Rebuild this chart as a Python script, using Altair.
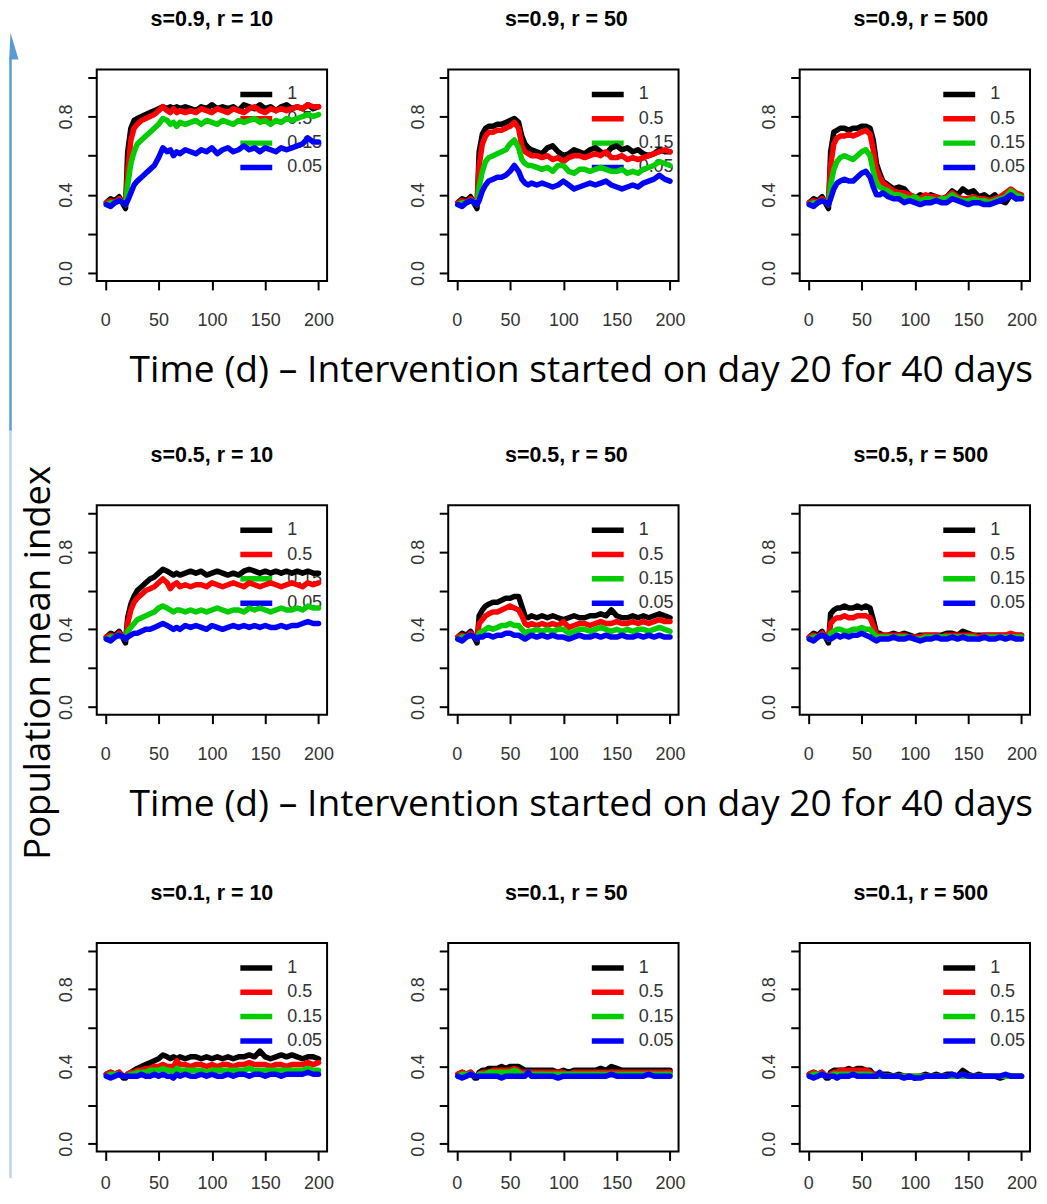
import altair as alt
import pandas as pd

DAYS = [1, 5, 9, 13, 17, 19,
        21, 24, 27, 30, 34, 38, 42, 46, 50, 54, 58,
        61, 64, 67, 70,
        75, 80, 85, 90, 95, 100, 105, 110, 115, 120, 125, 130, 135, 140, 145,
        150, 155, 160, 165, 170, 175, 180, 185, 190, 195, 200]

SERIES = ["1", "0.5", "0.15", "0.05"]
COLORS = ["#000000", "#FF0000", "#00CD00", "#0000FF"]
X_TICKS = [0, 50, 100, 150, 200]
Y_TICKS = [0.0, 0.2, 0.4, 0.6, 0.8, 1.0]
Y_LABELED = ["0.0", "0.4", "0.8"]
TITLES = [["s=0.9, r = 10", "s=0.9, r = 50", "s=0.9, r = 500"],
          ["s=0.5, r = 10", "s=0.5, r = 50", "s=0.5, r = 500"],
          ["s=0.1, r = 10", "s=0.1, r = 50", "s=0.1, r = 500"]]
X_NOTE = "Time (d) \u2013 Intervention started on day 20  for 40 days"
Y_NOTE = "Population mean index"

# ---- s=0.9, r=10
A_BLACK = [0.36, 0.38, 0.37, 0.39, 0.35, 0.33,
           0.62, 0.74, 0.78, 0.79, 0.80, 0.81, 0.82, 0.83, 0.84, 0.85, 0.84,
           0.85, 0.84, 0.85, 0.84,
           0.85, 0.84, 0.83, 0.85, 0.84, 0.86, 0.84, 0.85, 0.84, 0.85, 0.83, 0.86, 0.85,
           0.84, 0.86, 0.84, 0.85, 0.83, 0.85, 0.86, 0.84, 0.85, 0.84, 0.86, 0.84, 0.85]
A_RED = [0.36, 0.37, 0.36, 0.38, 0.36, 0.35,
         0.52, 0.68, 0.74, 0.76, 0.78, 0.79, 0.80, 0.81, 0.83, 0.85, 0.83,
         0.82, 0.84, 0.82, 0.83,
         0.82, 0.83, 0.82, 0.84, 0.83, 0.82, 0.84, 0.83, 0.82, 0.84, 0.83, 0.82, 0.84,
         0.85, 0.83, 0.82, 0.84, 0.83, 0.84, 0.83, 0.84, 0.85, 0.84, 0.86, 0.85, 0.85]
A_GREEN = [0.35, 0.36, 0.36, 0.37, 0.36, 0.35,
           0.45, 0.56, 0.62, 0.66, 0.68, 0.70, 0.72, 0.74, 0.76, 0.79, 0.78,
           0.76, 0.77, 0.75, 0.77,
           0.76, 0.77, 0.78, 0.76, 0.78, 0.77, 0.76, 0.78, 0.77, 0.76, 0.78, 0.77, 0.78,
           0.79, 0.77, 0.78, 0.76, 0.78, 0.77, 0.79, 0.78, 0.79, 0.80, 0.81, 0.80, 0.81]
A_BLUE = [0.35, 0.34, 0.36, 0.37, 0.36, 0.35,
          0.37, 0.41, 0.45, 0.47, 0.49, 0.51, 0.53, 0.55, 0.59, 0.64, 0.62,
          0.63, 0.60, 0.62, 0.61,
          0.63, 0.62, 0.61, 0.63, 0.62, 0.64, 0.61, 0.63, 0.64, 0.62, 0.63, 0.65, 0.63,
          0.64, 0.62, 0.64, 0.63, 0.62, 0.64, 0.63, 0.64, 0.65, 0.66, 0.69, 0.67, 0.67]

# ---- s=0.9, r=50
B_BLACK = [0.36, 0.38, 0.37, 0.39, 0.35, 0.33,
           0.62, 0.71, 0.74, 0.75, 0.75, 0.76, 0.76, 0.77, 0.78, 0.79, 0.77,
           0.70, 0.66, 0.64, 0.63,
           0.62, 0.61, 0.64, 0.65, 0.62, 0.60, 0.61, 0.63, 0.62, 0.61, 0.63, 0.64, 0.62,
           0.61, 0.64, 0.65, 0.63, 0.64, 0.62, 0.63, 0.61, 0.60, 0.61, 0.63, 0.62, 0.62]
B_RED = [0.36, 0.37, 0.36, 0.38, 0.36, 0.35,
         0.55, 0.66, 0.70, 0.72, 0.72, 0.73, 0.73, 0.74, 0.75, 0.77, 0.74,
         0.65, 0.62, 0.61, 0.60,
         0.60, 0.59, 0.60, 0.58, 0.59, 0.57, 0.59, 0.60, 0.60, 0.59, 0.60, 0.61, 0.60,
         0.62, 0.59, 0.59, 0.60, 0.58, 0.59, 0.58, 0.59, 0.60, 0.61, 0.62, 0.63, 0.62]
B_GREEN = [0.35, 0.36, 0.36, 0.37, 0.36, 0.35,
           0.44, 0.52, 0.57, 0.59, 0.60, 0.61, 0.62, 0.63, 0.66, 0.68, 0.64,
           0.58, 0.56, 0.55, 0.55,
           0.54, 0.53, 0.54, 0.52, 0.55, 0.55, 0.52, 0.51, 0.53, 0.53, 0.52, 0.53, 0.54,
           0.53, 0.52, 0.52, 0.53, 0.51, 0.52, 0.51, 0.53, 0.54, 0.55, 0.57, 0.56, 0.55]
B_BLUE = [0.35, 0.34, 0.36, 0.37, 0.36, 0.35,
          0.37, 0.42, 0.45, 0.47, 0.48, 0.49, 0.49, 0.50, 0.52, 0.55, 0.52,
          0.48, 0.46, 0.45, 0.46,
          0.45, 0.46, 0.45, 0.44, 0.45, 0.47, 0.45, 0.43, 0.44, 0.45, 0.46, 0.45, 0.46,
          0.47, 0.45, 0.44, 0.43, 0.44, 0.45, 0.44, 0.46, 0.47, 0.48, 0.50, 0.48, 0.47]

# ---- s=0.9, r=500
C_BLACK = [0.36, 0.38, 0.37, 0.39, 0.35, 0.33,
           0.62, 0.72, 0.73, 0.74, 0.74, 0.73, 0.74, 0.74, 0.75, 0.75, 0.74,
           0.68, 0.56, 0.51, 0.47,
           0.45, 0.43, 0.44, 0.43, 0.40, 0.38, 0.40, 0.39, 0.40, 0.39, 0.38, 0.39, 0.42,
           0.40, 0.43, 0.41, 0.42, 0.39, 0.40, 0.38, 0.40, 0.37, 0.36, 0.40, 0.38, 0.39]
C_RED = [0.36, 0.37, 0.36, 0.38, 0.36, 0.35,
         0.55, 0.66, 0.69, 0.70, 0.70, 0.71, 0.70, 0.71, 0.72, 0.73, 0.71,
         0.63, 0.53, 0.49, 0.46,
         0.44, 0.42, 0.41, 0.41, 0.40, 0.39, 0.38, 0.40, 0.39, 0.39, 0.38, 0.39, 0.41,
         0.39, 0.38, 0.38, 0.39, 0.38, 0.38, 0.37, 0.38, 0.39, 0.41, 0.43, 0.41, 0.40]
C_GREEN = [0.35, 0.36, 0.36, 0.37, 0.36, 0.35,
           0.45, 0.53, 0.57, 0.59, 0.60, 0.59, 0.58, 0.60, 0.62, 0.63, 0.60,
           0.52, 0.46, 0.44, 0.43,
           0.42, 0.40, 0.40, 0.39, 0.38, 0.39, 0.37, 0.38, 0.38, 0.37, 0.38, 0.38, 0.40,
           0.38, 0.37, 0.37, 0.38, 0.37, 0.37, 0.36, 0.37, 0.38, 0.39, 0.42, 0.40, 0.39]
C_BLUE = [0.35, 0.34, 0.36, 0.37, 0.36, 0.35,
          0.38, 0.43, 0.46, 0.47, 0.48, 0.47, 0.47, 0.49, 0.51, 0.52, 0.49,
          0.44, 0.40, 0.40, 0.41,
          0.39, 0.38, 0.38, 0.36, 0.37, 0.36, 0.35, 0.36, 0.36, 0.37, 0.36, 0.36, 0.38,
          0.37, 0.36, 0.35, 0.36, 0.36, 0.35, 0.35, 0.36, 0.37, 0.38, 0.40, 0.38, 0.38]

# ---- s=0.5, r=10
D_BLACK = [0.36, 0.38, 0.37, 0.39, 0.35, 0.33,
           0.46, 0.53, 0.57, 0.60, 0.62, 0.64, 0.66, 0.67, 0.69, 0.71, 0.70,
           0.69, 0.68, 0.69, 0.68,
           0.69, 0.70, 0.69, 0.70, 0.68, 0.69, 0.70, 0.69, 0.68, 0.69, 0.68, 0.70, 0.71,
           0.70, 0.69, 0.70, 0.69, 0.70, 0.69, 0.70, 0.69, 0.70, 0.69, 0.70, 0.69, 0.69]
D_RED = [0.36, 0.37, 0.36, 0.38, 0.36, 0.35,
         0.43, 0.50, 0.54, 0.56, 0.58, 0.60, 0.61, 0.62, 0.64, 0.66, 0.64,
         0.61, 0.63, 0.64, 0.62,
         0.63, 0.62, 0.63, 0.63, 0.62, 0.64, 0.63, 0.62, 0.63, 0.64, 0.63, 0.62, 0.64,
         0.63, 0.62, 0.63, 0.64, 0.63, 0.62, 0.63, 0.64, 0.63, 0.62, 0.64, 0.63, 0.64]
D_GREEN = [0.35, 0.36, 0.36, 0.37, 0.36, 0.35,
           0.39, 0.41, 0.43, 0.45, 0.46, 0.47, 0.48, 0.49, 0.51, 0.52, 0.51,
           0.50, 0.49, 0.50, 0.50,
           0.49, 0.50, 0.49, 0.50, 0.49, 0.50, 0.51, 0.50, 0.49, 0.50, 0.50, 0.49, 0.51,
           0.50, 0.51, 0.50, 0.49, 0.50, 0.51, 0.50, 0.50, 0.51, 0.50, 0.52, 0.51, 0.51]
D_BLUE = [0.35, 0.34, 0.36, 0.37, 0.36, 0.35,
          0.36, 0.37, 0.38, 0.38, 0.39, 0.40, 0.40, 0.41, 0.42, 0.43, 0.42,
          0.41, 0.40, 0.41, 0.40,
          0.42, 0.41, 0.42, 0.41, 0.40, 0.42, 0.41, 0.40, 0.41, 0.42, 0.41, 0.42, 0.41,
          0.42, 0.41, 0.42, 0.41, 0.41, 0.42, 0.41, 0.42, 0.42, 0.43, 0.44, 0.43, 0.43]

# ---- s=0.5, r=50
E_BLACK = [0.36, 0.38, 0.37, 0.39, 0.35, 0.33,
           0.47, 0.50, 0.52, 0.53, 0.54, 0.54, 0.55, 0.56, 0.56, 0.57, 0.57,
           0.52, 0.47, 0.46, 0.47,
           0.46, 0.47, 0.46, 0.47, 0.46, 0.45, 0.46, 0.47, 0.46, 0.46, 0.47, 0.47, 0.48,
           0.47, 0.50, 0.47, 0.46, 0.46, 0.47, 0.46, 0.47, 0.46, 0.47, 0.48, 0.47, 0.46]
E_RED = [0.36, 0.37, 0.36, 0.38, 0.36, 0.35,
         0.43, 0.45, 0.47, 0.48, 0.49, 0.49, 0.50, 0.51, 0.52, 0.51, 0.50,
         0.47, 0.43, 0.42, 0.43,
         0.42, 0.43, 0.42, 0.43, 0.42, 0.44, 0.41, 0.42, 0.43, 0.43, 0.42, 0.43, 0.44,
         0.43, 0.43, 0.44, 0.43, 0.43, 0.44, 0.43, 0.44, 0.43, 0.44, 0.45, 0.44, 0.44]
E_GREEN = [0.35, 0.36, 0.36, 0.37, 0.36, 0.35,
           0.38, 0.39, 0.40, 0.41, 0.40, 0.41, 0.42, 0.42, 0.43, 0.42, 0.42,
           0.40, 0.38, 0.39, 0.39,
           0.40, 0.39, 0.40, 0.39, 0.40, 0.40, 0.38, 0.39, 0.40, 0.40, 0.39, 0.40, 0.41,
           0.40, 0.39, 0.40, 0.39, 0.40, 0.39, 0.40, 0.40, 0.39, 0.40, 0.41, 0.40, 0.39]
E_BLUE = [0.35, 0.34, 0.36, 0.37, 0.36, 0.35,
          0.36, 0.36, 0.37, 0.37, 0.36, 0.37, 0.37, 0.38, 0.38, 0.37, 0.37,
          0.36, 0.35, 0.36, 0.37,
          0.36, 0.37, 0.36, 0.37, 0.36, 0.36, 0.35, 0.36, 0.37, 0.36, 0.36, 0.37, 0.36,
          0.37, 0.36, 0.36, 0.37, 0.36, 0.36, 0.37, 0.36, 0.37, 0.36, 0.37, 0.36, 0.36]

# ---- s=0.5, r=500
F_BLACK = [0.36, 0.38, 0.37, 0.39, 0.35, 0.33,
           0.48, 0.50, 0.51, 0.51, 0.52, 0.51, 0.51, 0.52, 0.51, 0.52, 0.51,
           0.45, 0.38, 0.38, 0.37,
           0.37, 0.38, 0.37, 0.38, 0.37, 0.36, 0.37, 0.37, 0.37, 0.37, 0.37, 0.38, 0.38,
           0.37, 0.39, 0.38, 0.37, 0.37, 0.37, 0.37, 0.37, 0.37, 0.37, 0.37, 0.37, 0.37]
F_RED = [0.36, 0.37, 0.36, 0.38, 0.36, 0.35,
         0.43, 0.45, 0.46, 0.46, 0.47, 0.46, 0.46, 0.47, 0.47, 0.47, 0.46,
         0.42, 0.37, 0.37, 0.37,
         0.37, 0.37, 0.37, 0.37, 0.36, 0.36, 0.36, 0.37, 0.37, 0.37, 0.36, 0.37, 0.37,
         0.37, 0.37, 0.37, 0.37, 0.36, 0.37, 0.37, 0.37, 0.37, 0.37, 0.38, 0.37, 0.37]
F_GREEN = [0.35, 0.36, 0.36, 0.37, 0.36, 0.35,
           0.38, 0.39, 0.40, 0.40, 0.39, 0.39, 0.40, 0.40, 0.41, 0.40, 0.40,
           0.38, 0.36, 0.36, 0.36,
           0.36, 0.36, 0.36, 0.36, 0.36, 0.35, 0.35, 0.36, 0.36, 0.36, 0.36, 0.36, 0.36,
           0.36, 0.36, 0.36, 0.36, 0.35, 0.36, 0.36, 0.36, 0.36, 0.36, 0.36, 0.36, 0.36]
F_BLUE = [0.35, 0.34, 0.36, 0.37, 0.36, 0.35,
          0.35, 0.36, 0.37, 0.36, 0.37, 0.36, 0.37, 0.37, 0.38, 0.37, 0.36,
          0.35, 0.34, 0.35, 0.35,
          0.35, 0.36, 0.35, 0.35, 0.36, 0.35, 0.34, 0.35, 0.35, 0.36, 0.35, 0.35, 0.36,
          0.35, 0.36, 0.35, 0.35, 0.35, 0.36, 0.35, 0.35, 0.36, 0.35, 0.36, 0.35, 0.35]

# ---- s=0.1, r=10
G_BLACK = [0.36, 0.37, 0.36, 0.37, 0.34, 0.34,
           0.36, 0.37, 0.38, 0.39, 0.40, 0.41, 0.42, 0.43, 0.44, 0.46, 0.45,
           0.44, 0.45, 0.44, 0.45,
           0.44, 0.45, 0.45, 0.44, 0.45, 0.44, 0.45, 0.44, 0.45, 0.44, 0.45, 0.45, 0.46,
           0.45, 0.48, 0.45, 0.44, 0.45, 0.46, 0.45, 0.46, 0.45, 0.44, 0.45, 0.45, 0.44]
G_RED = [0.36, 0.37, 0.36, 0.37, 0.35, 0.35,
         0.36, 0.37, 0.37, 0.38, 0.38, 0.39, 0.39, 0.40, 0.40, 0.41, 0.40,
         0.40, 0.40, 0.43, 0.41,
         0.41, 0.40, 0.41, 0.41, 0.40, 0.41, 0.40, 0.41, 0.41, 0.40, 0.41, 0.41, 0.42,
         0.41, 0.41, 0.41, 0.40, 0.41, 0.41, 0.40, 0.41, 0.41, 0.41, 0.42, 0.41, 0.42]
G_GREEN = [0.35, 0.36, 0.36, 0.36, 0.35, 0.35,
           0.35, 0.36, 0.36, 0.37, 0.37, 0.37, 0.38, 0.38, 0.38, 0.39, 0.38,
           0.38, 0.37, 0.39, 0.38,
           0.38, 0.38, 0.38, 0.38, 0.37, 0.38, 0.38, 0.38, 0.38, 0.38, 0.38, 0.38, 0.39,
           0.38, 0.38, 0.38, 0.38, 0.38, 0.38, 0.38, 0.38, 0.38, 0.38, 0.39, 0.38, 0.38]
G_BLUE = [0.35, 0.34, 0.35, 0.36, 0.35, 0.35,
          0.35, 0.35, 0.35, 0.35, 0.36, 0.35, 0.35, 0.36, 0.35, 0.36, 0.35,
          0.35, 0.34, 0.36, 0.35,
          0.36, 0.35, 0.35, 0.36, 0.35, 0.36, 0.35, 0.35, 0.36, 0.35, 0.36, 0.36, 0.35,
          0.36, 0.36, 0.35, 0.36, 0.36, 0.35, 0.36, 0.36, 0.36, 0.36, 0.37, 0.36, 0.36]

# ---- s=0.1, r=50
H_BLACK = [0.36, 0.37, 0.36, 0.37, 0.34, 0.34,
           0.37, 0.38, 0.38, 0.39, 0.39, 0.39, 0.40, 0.39, 0.40, 0.40, 0.40,
           0.39, 0.38, 0.38, 0.38,
           0.38, 0.38, 0.38, 0.38, 0.37, 0.38, 0.37, 0.38, 0.38, 0.38, 0.38, 0.38, 0.39,
           0.38, 0.40, 0.39, 0.38, 0.38, 0.38, 0.38, 0.38, 0.38, 0.38, 0.38, 0.38, 0.38]
H_RED = [0.36, 0.37, 0.36, 0.37, 0.35, 0.35,
         0.36, 0.37, 0.37, 0.37, 0.38, 0.38, 0.38, 0.38, 0.38, 0.39, 0.38,
         0.37, 0.37, 0.37, 0.37,
         0.37, 0.37, 0.37, 0.37, 0.37, 0.37, 0.36, 0.37, 0.37, 0.37, 0.37, 0.37, 0.37,
         0.37, 0.37, 0.37, 0.37, 0.37, 0.37, 0.37, 0.37, 0.37, 0.37, 0.37, 0.37, 0.37]
H_GREEN = [0.35, 0.36, 0.36, 0.36, 0.35, 0.35,
           0.36, 0.36, 0.36, 0.37, 0.37, 0.37, 0.37, 0.37, 0.37, 0.38, 0.37,
           0.36, 0.36, 0.36, 0.36,
           0.36, 0.36, 0.36, 0.36, 0.36, 0.36, 0.36, 0.36, 0.36, 0.36, 0.36, 0.36, 0.36,
           0.36, 0.36, 0.36, 0.36, 0.36, 0.36, 0.36, 0.36, 0.36, 0.36, 0.36, 0.36, 0.36]
H_BLUE = [0.35, 0.34, 0.35, 0.36, 0.35, 0.35,
          0.35, 0.35, 0.35, 0.35, 0.35, 0.35, 0.34, 0.35, 0.35, 0.35, 0.35,
          0.35, 0.35, 0.37, 0.35,
          0.35, 0.35, 0.35, 0.35, 0.34, 0.35, 0.35, 0.35, 0.35, 0.35, 0.35, 0.35, 0.35,
          0.35, 0.36, 0.35, 0.35, 0.35, 0.35, 0.35, 0.35, 0.36, 0.35, 0.35, 0.35, 0.35]

# ---- s=0.1, r=500
I_BLACK = [0.36, 0.37, 0.36, 0.37, 0.34, 0.34,
           0.37, 0.38, 0.38, 0.38, 0.38, 0.39, 0.38, 0.39, 0.39, 0.38, 0.38,
           0.36, 0.36, 0.35, 0.36,
           0.36, 0.35, 0.36, 0.35, 0.35, 0.34, 0.35, 0.36, 0.35, 0.36, 0.35, 0.36, 0.36,
           0.35, 0.38, 0.36, 0.35, 0.36, 0.35, 0.35, 0.35, 0.34, 0.35, 0.35, 0.35, 0.35]
I_RED = [0.36, 0.37, 0.36, 0.37, 0.35, 0.35,
         0.36, 0.37, 0.37, 0.38, 0.38, 0.38, 0.38, 0.38, 0.38, 0.38, 0.37,
         0.36, 0.35, 0.35, 0.35,
         0.35, 0.35, 0.35, 0.35, 0.35, 0.35, 0.35, 0.35, 0.35, 0.35, 0.35, 0.35, 0.35,
         0.35, 0.36, 0.35, 0.35, 0.35, 0.35, 0.35, 0.35, 0.35, 0.35, 0.35, 0.35, 0.35]
I_GREEN = [0.35, 0.36, 0.36, 0.36, 0.35, 0.35,
           0.35, 0.36, 0.36, 0.36, 0.36, 0.36, 0.36, 0.36, 0.36, 0.36, 0.36,
           0.35, 0.35, 0.35, 0.35,
           0.35, 0.35, 0.35, 0.35, 0.35, 0.35, 0.35, 0.35, 0.35, 0.35, 0.35, 0.35, 0.35,
           0.35, 0.35, 0.35, 0.35, 0.35, 0.35, 0.35, 0.35, 0.35, 0.35, 0.35, 0.35, 0.35]
I_BLUE = [0.35, 0.34, 0.35, 0.36, 0.35, 0.35,
          0.35, 0.35, 0.34, 0.35, 0.35, 0.35, 0.36, 0.35, 0.35, 0.35, 0.35,
          0.35, 0.35, 0.37, 0.35,
          0.35, 0.35, 0.35, 0.34, 0.35, 0.34, 0.34, 0.35, 0.35, 0.35, 0.35, 0.35, 0.36,
          0.35, 0.36, 0.35, 0.35, 0.35, 0.35, 0.35, 0.35, 0.35, 0.36, 0.35, 0.35, 0.35]

PANELS = [
    [[A_BLACK, A_RED, A_GREEN, A_BLUE], [B_BLACK, B_RED, B_GREEN, B_BLUE], [C_BLACK, C_RED, C_GREEN, C_BLUE]],
    [[D_BLACK, D_RED, D_GREEN, D_BLUE], [E_BLACK, E_RED, E_GREEN, E_BLUE], [F_BLACK, F_RED, F_GREEN, F_BLUE]],
    [[G_BLACK, G_RED, G_GREEN, G_BLUE], [H_BLACK, H_RED, H_GREEN, H_BLUE], [I_BLACK, I_RED, I_GREEN, I_BLUE]],
]
for row in PANELS:
    for panel in row:
        for s in panel:
            assert len(s) == len(DAYS), len(s)

FONT = "Liberation Sans"
NOTE_FONT = "Open Sans"
PANEL_W = 231
ROW_H = [212, 210, 209]
X_LABEL_PAD = [22, 22, 14]
TITLE_DX = [0, 3, 6]
LEG_X1, LEG_X2, LEG_TX, LEG_Y0, LEG_DY = 144, 176, 191, 25, 24.4

label_list = "[" + ",".join("'%s'" % s for s in Y_LABELED) + "]"
Y_LABEL_EXPR = ("indexof(%s, format(datum.value, '.1f')) >= 0 ? format(datum.value, '.1f') : ''"
                % label_list)


def make_panel(title, series_lists, height, note, xpad, tdx):
    xkw = dict(values=X_TICKS, format="d", tickSize=9, tickWidth=2, tickColor="black",
               domain=False, grid=False, labelFontSize=18, labelFont=FONT, labelColor="#333",
               labelPadding=xpad, labelFlush=False, labelOverlap=False)
    if note:
        xkw.update(title=X_NOTE, titleFont=NOTE_FONT, titleFontSize=37.3, titleFontWeight="normal",
                   titleColor="black", titleX=133, titleY=101, titleAlign="center",
                   titleBaseline="alphabetic", titleAngle=0)
    else:
        xkw.update(title="")
    xax = alt.Axis(**xkw)
    yax = alt.Axis(values=Y_TICKS, tickSize=9, tickWidth=2, tickColor="black", domain=False,
                   grid=False, labelExpr=Y_LABEL_EXPR, labelAngle=270, labelAlign="center",
                   labelBaseline="alphabetic", labelPadding=16, labelFontSize=18, labelFont=FONT,
                   labelColor="#333", labelOverlap=False, labelFlush=False, title="")
    xs = alt.Scale(domain=[-8, 208], nice=False, zero=False)
    ys = alt.Scale(domain=[-0.04, 1.04], nice=False, zero=False)

    leg_df = pd.DataFrame({"label": SERIES, "idx": list(range(len(SERIES)))})
    layers = []
    for k, (name, color) in enumerate(zip(SERIES, COLORS)):
        ypos = LEG_Y0 + LEG_DY * k
        base = alt.Chart(leg_df).transform_filter(alt.datum.idx == k)
        layers.append(base.mark_rule(color=color, strokeWidth=5.5).encode(
            x=alt.value(LEG_X1), x2=alt.value(LEG_X2), y=alt.value(ypos)))
        layers.append(base.mark_text(align="left", baseline="middle", font=FONT, fontSize=18,
                                     color="#333").encode(
            x=alt.value(LEG_TX), y=alt.value(ypos), text="label:N"))
    for name, color, vals in zip(SERIES, COLORS, series_lists):
        df = pd.DataFrame({"day": DAYS, "value": vals})
        layers.append(alt.Chart(df).mark_line(color=color, strokeWidth=5.5, strokeJoin="round",
                                              strokeCap="round").encode(
            x=alt.X("day:Q", scale=xs, axis=xax),
            y=alt.Y("value:Q", scale=ys, axis=yax)))
    return alt.layer(*layers).properties(
        width=PANEL_W, height=height,
        title=alt.TitleParams(text=title, font=FONT, fontSize=21.5, fontWeight="bold",
                              color="black", anchor="middle", frame="group",
                              baseline="bottom", offset=17, dx=tdx))


rows = []
for r in range(3):
    panels = [make_panel(TITLES[r][c], PANELS[r][c], ROW_H[r], note=(c == 1 and r < 2),
                         xpad=X_LABEL_PAD[r], tdx=TITLE_DX[c])
              for c in range(3)]
    rows.append(alt.hconcat(*panels, spacing=121.5, bounds="flush"))

# nested concat groups count as zero height under flush bounds, so spacing runs top-to-top
grid = alt.vconcat(rows[0],
                   alt.vconcat(rows[1], rows[2], spacing=ROW_H[1] + 229, bounds="flush"),
                   spacing=ROW_H[0] + 225, bounds="flush")

strip_df = pd.DataFrame({"label": [Y_NOTE]})
strip_base = alt.Chart(strip_df)
strip = alt.layer(
    strip_base.mark_rule(color="#BDD7EE", strokeWidth=2.5).encode(
        x=alt.value(1.5), y=alt.value(360), y2=alt.value(1112)),
    strip_base.mark_rule(color="#5B9BD5", strokeWidth=2.5).encode(
        x=alt.value(1.5), y=alt.value(-12), y2=alt.value(362)),
    strip_base.mark_point(shape="M0,-1L0.6,1L-0.1,1Z", filled=True, opacity=1, color="#5B9BD5",
                          size=729, strokeWidth=0).encode(x=alt.value(1.5), y=alt.value(-23.5)),
    strip_base.mark_text(angle=270, align="center", baseline="middle", font=NOTE_FONT,
                         fontSize=36.6, color="black").encode(
        x=alt.value(30), y=alt.value(595), text="label:N"),
).properties(width=10, height=1100, view=alt.ViewBackground(stroke="transparent"))

chart = alt.hconcat(strip, grid, spacing=78, bounds="flush").properties(
    padding={"left": 0, "top": -2, "right": 0, "bottom": -3},
    background="white",
).configure_view(stroke="black", strokeWidth=2)

chart.save("out.html", embed_options={"renderer": "svg", "actions": False})
